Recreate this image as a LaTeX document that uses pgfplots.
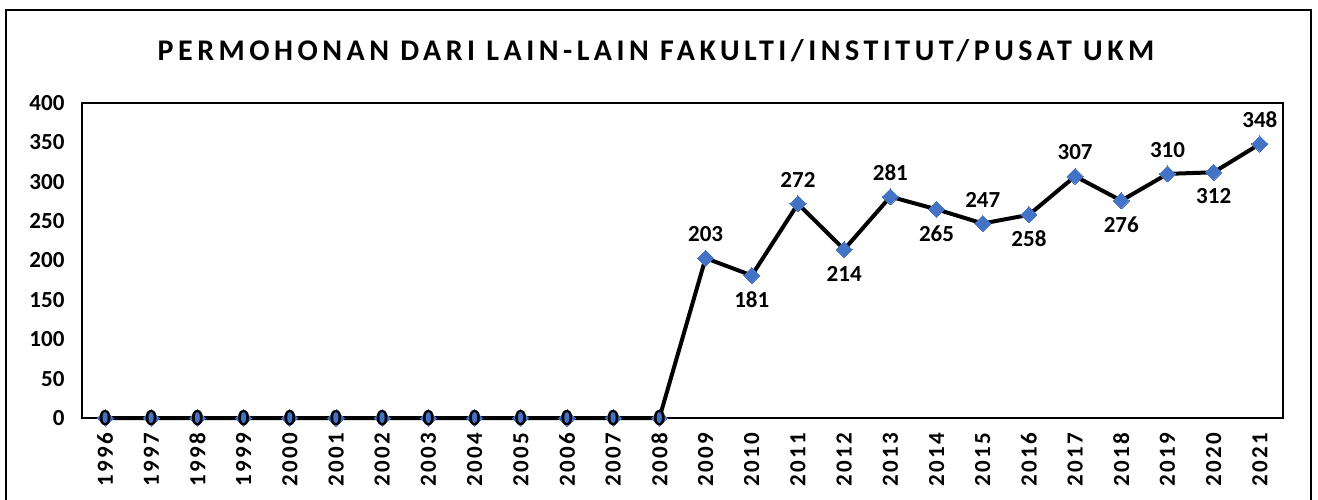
\documentclass[border=0pt]{standalone}
\usepackage{fontspec}
\setmainfont{Carlito}
\newfontfamily\spaced[LetterSpace=10]{Carlito}
\newfontfamily\titlefont[LetterSpace=15]{Carlito}
\usepackage{pgfplots}
\usepackage{pgfplotstable}
\pgfplotsset{compat=1.18}
\definecolor{mblue}{HTML}{4472C4}
\pgfplotstableread{
x y pos
0 0 0
1 0 0
2 0 0
3 0 0
4 0 0
5 0 0
6 0 0
7 0 0
8 0 0
9 0 0
10 0 0
11 0 0
12 0 0
13 203 1
14 181 -1
15 272 1
16 214 -1
17 281 1
18 265 -1
19 247 1
20 258 -1
21 307 1
22 276 -1
23 310 1
24 312 -1
25 348 1
}\datatable
\begin{document}
\begin{tikzpicture}[x=1pt,y=1pt]
\useasboundingbox (0,0) rectangle (1318,499);
\draw[line width=2.5pt] (6,-30) rectangle (1311,489);
\node[font=\fontsize{30}{32}\titlefont\bfseries] at (656,448) {PERMOHONAN DARI LAIN-LAIN FAKULTI/INSTITUT/PUSAT UKM};
\begin{axis}[
  at={(82pt,81pt)}, anchor=south west,
  scale only axis, width=1201pt, height=315pt,
  xmin=-0.5, xmax=25.5, ymin=0, ymax=400,
  xtick={0,...,25},
  xticklabels={1996,1997,1998,1999,2000,2001,2002,2003,2004,2005,2006,2007,2008,2009,2010,2011,2012,2013,2014,2015,2016,2017,2018,2019,2020,2021},
  ytick={0,50,...,400},
  major tick length=0pt,
  /pgf/number format/assume math mode=true,
  axis line style={line width=1.6pt},
  x tick label style={rotate=90, anchor=east, xshift=-11pt, font=\fontsize{23}{24}\spaced\bfseries},
  y tick label style={xshift=-14pt, font=\fontsize{23}{24}\selectfont\bfseries},
  clip=false,
]
\addplot[black, line width=4pt, mark=square*, mark size=5.7pt,
  mark options={rotate=45, fill=mblue, draw=mblue, line width=0pt},
  visualization depends on={\thisrow{pos} \as \lpos},
  nodes near coords,
  nodes near coords style={anchor=center, yshift=\lpos*24pt, font=\fontsize{23}{24}\selectfont\bfseries, text=black},
] table[x=x, y=y] {\datatable};
\end{axis}
\end{tikzpicture}
\end{document}
